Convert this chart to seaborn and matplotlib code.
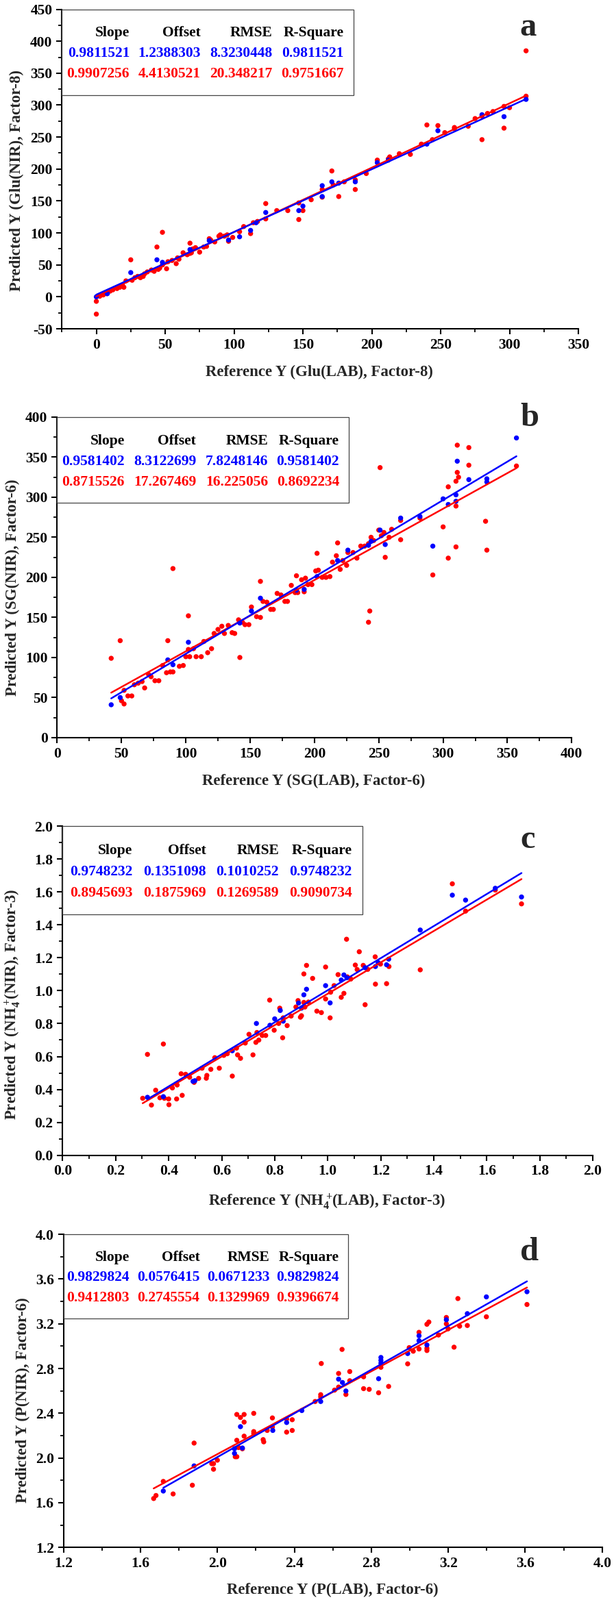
import numpy as np
import pandas as pd
import matplotlib
matplotlib.use('Agg')
import matplotlib.pyplot as plt
import seaborn as sns
from matplotlib.ticker import MultipleLocator, FormatStrFormatter
from matplotlib.patches import Rectangle

# %% data
# blue = calibration set, red = validation set
glu_ref_blue = [0, 8, 25, 44, 48, 68, 82, 96, 104, 112, 116, 123, 147, 150, 164, 164, 171, 176,
                188, 204, 212, 240, 248, 280, 296, 312]
glu_pred_blue = [0, 5, 38, 58, 54, 74, 88, 89, 94, 104, 116, 132, 135, 142, 174, 157, 180, 178,
                 180, 210, 214, 239, 260, 285, 282, 309]
glu_ref_red = [0, 0, 2.5, 5, 7.5, 10, 12, 15, 17, 20, 19, 21.5, 26, 28, 30, 32, 34, 35, 37, 40, 42,
               45, 46, 48, 51, 52, 55, 58, 59, 60, 63, 66, 68, 69, 70, 72, 75, 78, 80, 82, 83, 86,
               89, 90, 93, 95, 96, 99, 104, 107, 112, 114, 117, 123, 131, 139, 147, 150, 25, 44,
               48, 68, 123, 147, 156, 164, 164, 171, 172, 176, 180, 188, 188, 196, 204, 212, 213,
               220, 228, 236, 240, 244, 248, 253, 260, 260, 270, 275, 280, 280, 284, 288, 296,
               296, 300, 312, 312]
glu_pred_red = [-7, -27, 1, 3, 5, 9, 11, 13, 15, 15, 18, 25, 26, 30, 32, 30, 32, 36, 39, 42, 40,
                43, 45, 50, 44, 55, 57, 52, 61, 59, 69, 66, 68, 69, 75, 77, 70, 78, 79, 91, 89, 86,
                95, 97, 95, 97, 87, 93, 102, 110, 99, 116, 118, 122, 135, 135, 121, 135, 58, 78,
                101, 84, 146, 147, 152, 168, 156, 197, 175, 157, 180, 183, 168, 193, 214, 216, 219,
                224, 223, 239, 269, 246, 268, 257, 263, 265, 267, 279, 246, 283, 287, 290, 298,
                264, 296, 314, 385]

sg_ref_blue = [42, 49, 86, 90, 102, 142, 151, 158, 186, 192, 202, 218, 226, 242, 244, 251, 255,
               267, 282, 292, 300, 304, 310, 310, 311, 320, 334, 334, 357]
sg_pred_blue = [41, 50, 97, 91, 119, 143, 158, 174, 184, 185, 201, 221, 234, 240, 245, 259, 241,
                274, 276, 239, 298, 291, 303, 295, 345, 322, 323, 319, 374]
sg_ref_red = [42, 49, 50, 52, 52, 55, 58, 60, 63, 66, 68, 71, 73, 76, 79, 82, 85, 86, 88, 90, 90,
              95, 98, 100, 102, 102, 103, 106, 108, 112, 114, 117, 120, 122, 125, 128, 130, 133,
              136, 138, 141, 142, 144, 146, 149, 151, 155, 158, 158, 160, 163, 166, 168, 171, 174,
              177, 179, 182, 185, 186, 187, 190, 192, 193, 195, 198, 201, 203, 206, 209, 212, 202,
              214, 217, 218, 220, 222, 225, 226, 230, 233, 236, 239, 242, 244, 246, 250, 252, 254,
              255, 258, 260, 267, 267, 282, 292, 300, 304, 304, 310, 310, 310, 311, 312, 311, 320,
              320, 333, 334, 357, 243, 242, 251]
sg_pred_red = [99, 121, 46, 42, 59, 52, 52, 66, 68, 70, 62, 79, 76, 71, 71, 90, 81, 121, 82, 82,
               211, 89, 90, 101, 152, 110, 101, 111, 101, 101, 120, 106, 111, 130, 135, 139, 130,
               140, 131, 130, 147, 100, 144, 141, 141, 163, 151, 150, 195, 170, 169, 160, 160, 180,
               178, 170, 170, 190, 181, 202, 181, 197, 182, 199, 191, 191, 208, 209, 200, 200, 201,
               230, 219, 227, 243, 210, 221, 215, 231, 231, 224, 239, 239, 242, 250, 246, 259, 252,
               256, 225, 250, 260, 271, 247, 274, 203, 263, 313, 224, 289, 238, 320, 331, 325, 365,
               362, 340, 270, 234, 339, 158, 144, 337]

nh4_ref_blue = [0.320, 0.380, 0.492, 0.499, 0.640, 0.731, 0.782, 0.800, 0.821, 0.832, 0.890, 0.901,
                0.910, 0.920, 0.992, 1.009, 1.051, 1.061, 1.072, 1.141, 1.180, 1.190, 1.222, 1.230,
                1.349, 1.470, 1.520, 1.632, 1.731]
nh4_pred_blue = [0.352, 0.356, 0.449, 0.453, 0.635, 0.801, 0.790, 0.829, 0.880, 0.815, 0.925, 0.894,
                 0.975, 1.009, 1.031, 0.926, 1.065, 1.096, 1.079, 1.140, 1.147, 1.171, 1.158, 1.192,
                 1.369, 1.581, 1.551, 1.623, 1.570]
nh4_ref_red = [0.302, 0.320, 0.335, 0.351, 0.367, 0.380, 0.384, 0.400, 0.401, 0.414, 0.430, 0.432,
               0.447, 0.451, 0.464, 0.479, 0.496, 0.513, 0.526, 0.542, 0.544, 0.559, 0.574, 0.591,
               0.608, 0.621, 0.640, 0.656, 0.660, 0.671, 0.689, 0.703, 0.718, 0.729, 0.733, 0.740,
               0.753, 0.766, 0.781, 0.798, 0.815, 0.819, 0.830, 0.832, 0.847, 0.862, 0.880, 0.888,
               0.897, 0.901, 0.910, 0.914, 0.910, 0.920, 0.927, 0.943, 0.959, 0.976, 0.992, 0.992,
               1.009, 1.011, 1.024, 1.039, 1.051, 1.061, 1.071, 1.074, 1.087, 1.104, 1.111, 1.119,
               1.134, 1.141, 1.151, 1.179, 1.180, 1.199, 1.222, 1.231, 1.349, 1.470, 1.520, 1.632,
               1.731]
nh4_pred_red = [0.346, 0.613, 0.305, 0.395, 0.349, 0.676, 0.346, 0.342, 0.307, 0.409, 0.342, 0.427,
                0.495, 0.364, 0.492, 0.474, 0.443, 0.467, 0.529, 0.468, 0.485, 0.522, 0.593, 0.529,
                0.607, 0.617, 0.481, 0.651, 0.610, 0.589, 0.682, 0.735, 0.610, 0.686, 0.746, 0.700,
                0.728, 0.728, 0.943, 0.760, 0.801, 0.894, 0.714, 0.835, 0.788, 0.846, 0.901, 0.940,
                0.839, 0.848, 0.929, 0.901, 1.102, 1.154, 0.931, 1.075, 0.876, 0.867, 1.144, 0.950,
                0.835, 0.991, 1.031, 1.098, 0.960, 0.984, 1.313, 1.084, 1.071, 1.156, 1.129, 1.237,
                1.154, 0.915, 1.130, 1.206, 1.040, 1.162, 1.043, 1.147, 1.127, 1.650, 1.484, 1.612,
                1.528]

p_ref_blue = [1.719, 1.879, 2.089, 2.089, 2.120, 2.130, 2.288, 2.360, 2.439, 2.537, 2.630, 2.650,
              2.668, 2.838, 2.850, 2.850, 2.850, 2.989, 3.048, 3.048, 3.089, 3.190, 3.299, 3.398,
              3.609]
p_pred_blue = [1.704, 1.929, 2.041, 2.082, 2.280, 2.089, 2.246, 2.317, 2.424, 2.505, 2.705, 2.675,
               2.599, 2.709, 2.899, 2.873, 2.848, 2.934, 3.093, 3.049, 3.011, 3.236, 3.291, 3.441,
               3.487]
p_ref_red = [1.669, 1.681, 1.719, 1.770, 1.870, 1.879, 1.971, 1.980, 1.980, 2.000, 2.093, 2.101,
             2.101, 2.101, 2.110, 2.120, 2.130, 2.139, 2.139, 2.139, 2.189, 2.189, 2.189, 2.238,
             2.241, 2.259, 2.286, 2.286, 2.360, 2.360, 2.389, 2.389, 2.508, 2.537, 2.537, 2.540,
             2.609, 2.630, 2.630, 2.648, 2.668, 2.688, 2.688, 2.760, 2.760, 2.789, 2.838, 2.850,
             2.890, 2.989, 2.997, 3.018, 3.048, 3.048, 3.089, 3.089, 3.089, 3.099, 3.149, 3.190,
             3.190, 3.199, 3.230, 3.250, 3.259, 3.299, 3.398, 3.609]
p_pred_red = [1.637, 1.664, 1.790, 1.678, 1.756, 2.133, 1.949, 1.949, 1.899, 1.980, 2.011, 2.011,
              2.158, 2.389, 2.093, 2.362, 2.082, 2.195, 2.389, 2.321, 2.399, 2.236, 2.219, 2.164,
              2.144, 2.246, 2.358, 2.277, 2.348, 2.231, 2.342, 2.246, 2.505, 2.566, 2.546, 2.845,
              2.607, 2.756, 2.634, 2.971, 2.568, 2.773, 2.691, 2.726, 2.620, 2.614, 2.583, 2.811,
              2.640, 2.842, 2.987, 2.955, 3.124, 2.975, 3.196, 2.981, 2.961, 3.216, 3.100, 3.257,
              3.200, 3.155, 2.991, 3.426, 3.179, 3.185, 3.263, 3.373]

stat_header = ['Slope', 'Offset', 'RMSE', 'R-Square']
glu_stats = [['0.9811521', '1.2388303', '8.3230448', '0.9811521'],
             ['0.9907256', '4.4130521', '20.348217', '0.9751667']]
sg_stats = [['0.9581402', '8.3122699', '7.8248146', '0.9581402'],
            ['0.8715526', '17.267469', '16.225056', '0.8692234']]
nh4_stats = [['0.9748232', '0.1351098', '0.1010252', '0.9748232'],
             ['0.8945693', '0.1875969', '0.1269589', '0.9090734']]
p_stats = [['0.9829824', '0.0576415', '0.0671233', '0.9829824'],
           ['0.9412803', '0.2745554', '0.1329969', '0.9396674']]

# %%
sns.set_style('ticks')
plt.rcParams['font.family'] = ['Liberation Serif', 'DejaVu Serif']
plt.rcParams['font.weight'] = 'bold'
plt.rcParams['axes.unicode_minus'] = False
plt.rcParams['mathtext.fontset'] = 'custom'
plt.rcParams['mathtext.rm'] = 'Liberation Serif:bold'
plt.rcParams['mathtext.bf'] = 'Liberation Serif:bold'
plt.rcParams['mathtext.default'] = 'bf'

BLUE = '#0000ff'
RED = '#ff0000'

panels = [
    dict(letter='a', rect=[0.1008, 0.7945, 0.8412, 0.1997],
         blue=(glu_ref_blue, glu_pred_blue), red=(glu_ref_red, glu_pred_red), stats=glu_stats,
         xlim=(-25, 350), ylim=(-50, 450), major=50, minor=25, fmt='%d',
         xlabel='Reference Y (Glu(LAB), Factor-8)', ylabel='Predicted Y (Glu(NIR), Factor-8)',
         cols=[0.131, 0.269, 0.407, 0.546], box=0.565, letter_xy=(0.903, 0.918), ylab_xy=(-0.0736, 0.465)),
    dict(letter='b', rect=[0.0931, 0.5390, 0.8381, 0.2003],
         blue=(sg_ref_blue, sg_pred_blue), red=(sg_ref_red, sg_pred_red), stats=sg_stats,
         xlim=(0, 400), ylim=(0, 400), major=50, minor=25, fmt='%d',
         xlabel='Reference Y (SG(LAB), Factor-6)', ylabel='Predicted Y (SG(NIR), Factor-6)',
         cols=[0.131, 0.270, 0.410, 0.548], box=0.567, letter_xy=(0.918, 0.972), ylab_xy=(-0.0727, 0.469)),
    dict(letter='c', rect=[0.1020, 0.2780, 0.8635, 0.2056],
         blue=(nh4_ref_blue, nh4_pred_blue), red=(nh4_ref_red, nh4_pred_red), stats=nh4_stats,
         xlim=(0, 2), ylim=(0, 2), major=0.2, minor=0.1, fmt='%.1f',
         xlabel='Reference Y (NH$_4^+\\!$(LAB), Factor-3)', ylabel='Predicted Y (NH$_4^+\\!$(NIR), Factor-3)',
         cols=[0.132, 0.270, 0.408, 0.546], box=0.566, letter_xy=(0.877, 0.933), ylab_xy=(-0.0757, 0.459)),
    dict(letter='d', rect=[0.1033, 0.0329, 0.8775, 0.1956],
         blue=(p_ref_blue, p_pred_blue), red=(p_ref_red, p_pred_red), stats=p_stats,
         xlim=(1.2, 4.0), ylim=(1.2, 4.0), major=0.4, minor=0.2, fmt='%.1f',
         xlabel='Reference Y (P(LAB), Factor-6)', ylabel='Predicted Y (P(NIR), Factor-6)',
         cols=[0.1226, 0.2529, 0.3824, 0.5118], box=0.529, letter_xy=(0.865, 0.918), ylab_xy=(-0.062, 0.471)),
]

fig = plt.figure(figsize=(8.96, 23.36), dpi=100)

for p in panels:
    ax = fig.add_axes(p['rect'])
    xr, yr = p['red']
    xb, yb = p['blue']
    sns.scatterplot(x=xr, y=yr, color=RED, s=28, edgecolor='none', linewidth=0, ax=ax, zorder=2)
    sns.scatterplot(x=xb, y=yb, color=BLUE, s=28, edgecolor='none', linewidth=0, ax=ax, zorder=3)
    sns.regplot(x=np.array(xr), y=np.array(yr), scatter=False, ci=None, truncate=True, color=RED,
                line_kws={'lw': 1.8, 'zorder': 4}, ax=ax)
    sns.regplot(x=np.array(xb), y=np.array(yb), scatter=False, ci=None, truncate=True, color=BLUE,
                line_kws={'lw': 1.8, 'zorder': 5}, ax=ax)

    ax.set_xlim(*p['xlim'])
    ax.set_ylim(*p['ylim'])
    for axis in (ax.xaxis, ax.yaxis):
        axis.set_major_locator(MultipleLocator(p['major']))
        axis.set_minor_locator(MultipleLocator(p['minor']))
        axis.set_major_formatter(FormatStrFormatter(p['fmt']))
    sns.despine(ax=ax)
    for side in ('left', 'bottom'):
        ax.spines[side].set_linewidth(1.5)
        ax.spines[side].set_color('black')
    ax.tick_params(which='major', direction='out', length=6, width=1.5, labelsize=15.5, pad=4, colors='black')
    ax.tick_params(which='minor', direction='out', length=3.5, width=1.3, colors='black')
    for lab in ax.get_xticklabels() + ax.get_yticklabels():
        lab.set_fontweight('bold')

    ax.set_xlabel(p['xlabel'], fontsize=16.5, fontweight='bold')
    ax.set_ylabel(p['ylabel'], fontsize=16.5, fontweight='bold')
    ax.xaxis.set_label_coords(0.499, -0.113)
    ax.yaxis.set_label_coords(*p['ylab_xy'])

    # statistics table in the upper left corner
    ax.add_patch(Rectangle((0, 0.732), p['box'], 0.268, transform=ax.transAxes, fill=False,
                           edgecolor='#444444', lw=0.9, zorder=6, clip_on=False))
    for cx, head, vb, vr in zip(p['cols'], stat_header, p['stats'][0], p['stats'][1]):
        ax.text(cx, 0.926, head, transform=ax.transAxes, ha='right', va='center',
                fontsize=15.5, fontweight='bold', color='black')
        ax.text(cx, 0.862, vb, transform=ax.transAxes, ha='right', va='center',
                fontsize=15.5, fontweight='bold', color=BLUE)
        ax.text(cx, 0.797, vr, transform=ax.transAxes, ha='right', va='center',
                fontsize=15.5, fontweight='bold', color=RED)

    ax.text(p['letter_xy'][0], p['letter_xy'][1], p['letter'], transform=ax.transAxes,
            ha='center', va='baseline', fontsize=35, fontweight='bold')

fig.savefig('out.png', dpi=100)
